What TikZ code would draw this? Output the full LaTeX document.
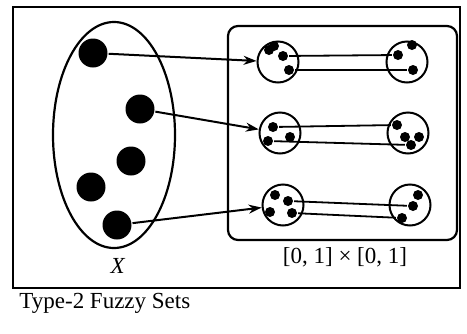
\documentclass[tikz,border=0pt]{standalone}
\usepackage{fontspec}
\setmainfont{Liberation Serif}
\usetikzlibrary{arrows.meta}
\begin{document}
\begin{tikzpicture}[x=1pt,y=-1pt,line width=2.2pt,font=\fontsize{23}{26}\selectfont,
  bigdot/.style={circle,fill,inner sep=0pt,minimum size=29pt},
  smalldot/.style={circle,fill,inner sep=0pt,minimum size=10pt},
  cell/.style={circle,draw,inner sep=0pt,minimum size=41pt,line width=2pt},
  pair/.style={line width=1.8pt},
  link/.style={-{Stealth[length=13pt,width=9pt]},line width=2pt}]
\useasboundingbox (0,0) rectangle (467,333);
\draw (13,7) rectangle (460,288);
\draw (114,135) ellipse [x radius=61,y radius=113];
\draw[rounded corners=10pt] (228,26) rectangle (457,240);
\node[bigdot] (x1) at (93,53) {};
\node[bigdot] (x2) at (140,109) {};
\node[bigdot] (x3) at (131,161) {};
\node[bigdot] (x4) at (91,187) {};
\node[bigdot] (x5) at (117,225) {};
\node (xlab) at (118,266) {\textit{X}};
\node[cell] (c11) at (278,62) {};
\node[cell] (c12) at (407,62) {};
\node[cell] (c21) at (280,133) {};
\node[cell] (c22) at (408,133) {};
\node[cell] (c31) at (283,205) {};
\node[cell] (c32) at (410,205) {};
\node (ulab) at (345,257) {[0, 1] × [0, 1]};
\node[anchor=base west] (title) at (15,308) {Type-2 Fuzzy Sets};
% points inside the cells
\node[smalldot] (p11a) at (269,50) {};
\node[smalldot] (p11b) at (274,46) {};
\node[smalldot] (p11c) at (283,56) {};
\node[smalldot] (p11d) at (289,70) {};
\node[smalldot] (p12a) at (398,55) {};
\node[smalldot] (p12b) at (412,45) {};
\node[smalldot] (p12c) at (413,70) {};
\node[smalldot] (p21a) at (273,127) {};
\node[smalldot] (p21b) at (290,137) {};
\node[smalldot] (p21c) at (268,141) {};
\node[smalldot] (p22a) at (397,125) {};
\node[smalldot] (p22b) at (405,137) {};
\node[smalldot] (p22c) at (419,137) {};
\node[smalldot] (p22d) at (411,145) {};
\node[smalldot] (p31a) at (275,195) {};
\node[smalldot] (p31b) at (288,201) {};
\node[smalldot] (p31c) at (270,212) {};
\node[smalldot] (p31d) at (292,213) {};
\node[smalldot] (p32a) at (418,195) {};
\node[smalldot] (p32b) at (413,206) {};
\node[smalldot] (p32c) at (402,218) {};
\draw[pair] (p11c) -- (p12a);
\draw[pair] (p11d) -- (p12c);
\draw[pair] (p21a) -- (p22a);
\draw[pair] (p21c) -- (p22d);
\draw[pair] (p31b) -- (p32b);
\draw[pair] (p31d) -- (p32c);
\draw[link] (x1) -- (c11);
\draw[link] (x2) -- (c21);
\draw[link] (x5) -- (c31);
\end{tikzpicture}
\end{document}
